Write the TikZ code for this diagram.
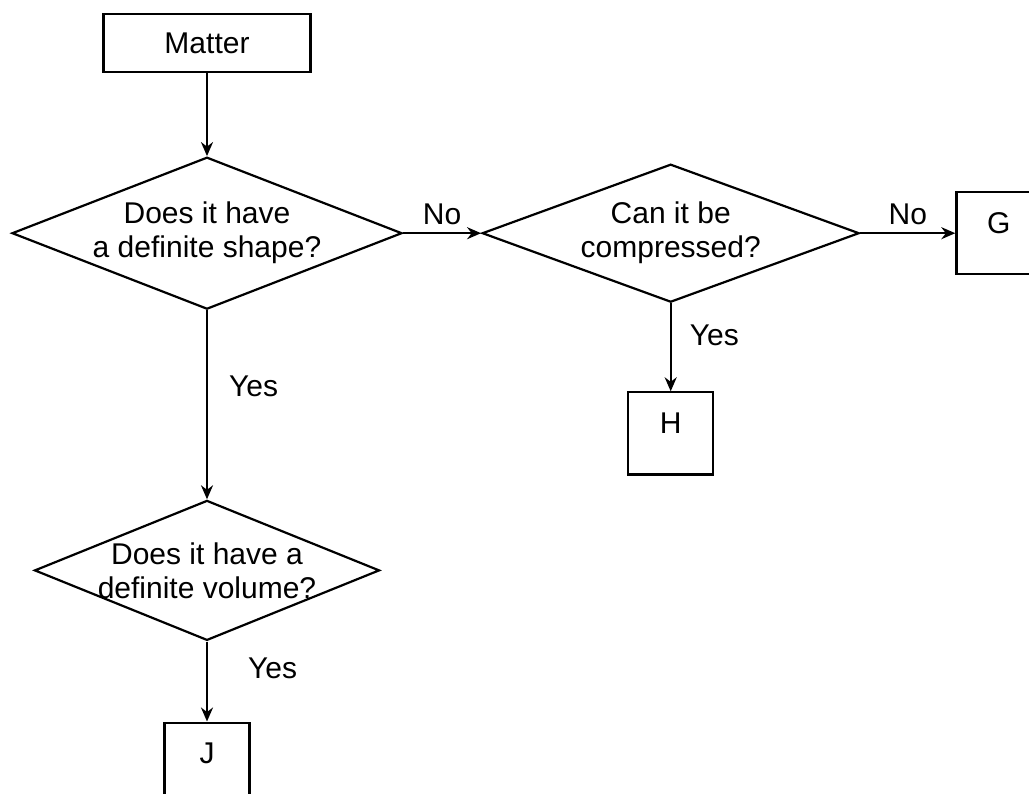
\documentclass[tikz,border=0pt]{standalone}
\usepackage{fontspec}
\setmainfont{Liberation Sans}
\usetikzlibrary{arrows.meta,positioning,shapes.geometric}

\begin{document}
\begin{tikzpicture}[x=1pt, y=1pt,
    font=\fontsize{30}{34}\selectfont,
    frame/.style={draw, line width=2.2pt, align=center},
    result/.style={frame, minimum width=85pt, minimum height=82pt, text depth=20pt},
    decision/.style={draw, diamond, line width=2.2pt, align=center,
      shape aspect=2.5, inner sep=-10pt},
    arrow/.style={-{Stealth[length=14pt, width=12pt]}, line width=2.2pt},
    answer/.style={inner sep=2pt}
  ]
    \useasboundingbox (0,0) rectangle (1029,-794);

    \node[frame, minimum width=207pt, minimum height=58pt] (matter) at (207,-43) {Matter};
    \node[decision, below=83pt of matter, minimum width=390pt, minimum height=152pt] (shape)
      {Does it have\\a definite shape?};
    \node[decision, right=78pt of shape, minimum width=377pt, minimum height=138pt] (compress)
      {Can it be\\compressed?};
    \node[result, right=95pt of compress] (g) {G};
    \node[result, below=88pt of compress] (h) {H};
    \node[decision, below=189pt of shape, minimum width=345pt, minimum height=140pt] (volume)
      {Does it have a\\definite volume?};
    \node[result, below=80pt of volume] (j) {J};

    \draw[arrow] (matter) -- (shape);
    \draw[arrow] (shape) -- node[answer, above=5pt] (no1) {No} (compress);
    \draw[arrow] (compress) -- node[answer, above=5pt] (no2) {No} (g);
    \draw[arrow] (compress) -- node[answer, right=16pt, pos=0.36] (yes1) {Yes} (h);
    \draw[arrow] (shape) -- node[answer, right=19pt, pos=0.4] (yes2) {Yes} (volume);
    \draw[arrow] (volume) -- node[answer, right=38pt, pos=0.34] (yes3) {Yes} (j);
  \end{tikzpicture}
\end{document}
